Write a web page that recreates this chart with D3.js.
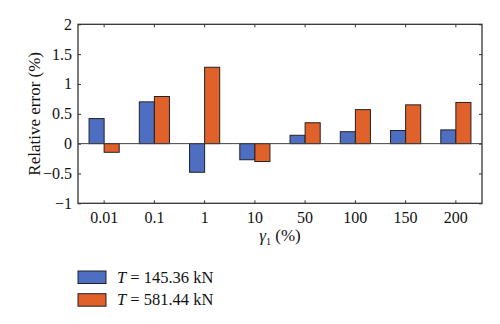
<!DOCTYPE html>
<html><head><meta charset="utf-8">
<script src="https://cdn.jsdelivr.net/npm/d3@7"></script>
<style>body{margin:0;background:#fff}svg{display:block}text{font-family:"Liberation Serif","DejaVu Serif",serif;fill:#111}</style>
</head><body><svg id="c" width="500" height="324"></svg>
<script>
const categories = ["0.01","0.1","1","10","50","100","150","200"];
const seriesNames = ["145.36 kN","581.44 kN"];
const seriesA = [0.42, 0.70, -0.48, -0.27, 0.14, 0.20, 0.22, 0.23];
const seriesB = [-0.145, 0.79, 1.28, -0.30, 0.35, 0.57, 0.65, 0.69];
const yTicks = [-1, -0.5, 0, 0.5, 1, 1.5, 2];
const colors = ["#4e6ec2", "#e0612a"];

const svg = d3.select("#c");
const L = 78, R = 482, T = 24.3, B = 203.3;
const x = d3.scaleBand().domain(categories).range([L, R]).paddingInner(0.4).paddingOuter(0.22);
const xs = d3.scaleBand().domain([0,1]).range([0, x.bandwidth()]);
const y = d3.scaleLinear().domain([-1, 2]).range([B, T]);

const series = [seriesA, seriesB];
series.forEach((vals, si) => {
  svg.append("g").selectAll("rect").data(vals).join("rect")
    .attr("x", (d,i) => x(categories[i]) + xs(si))
    .attr("width", xs.bandwidth())
    .attr("y", d => y(Math.max(0, d)))
    .attr("height", d => Math.abs(y(d) - y(0)))
    .attr("fill", colors[si]).attr("stroke", "#222").attr("stroke-width", 1);
});

// zero line
svg.append("line").attr("x1", L).attr("x2", R).attr("y1", y(0)).attr("y2", y(0))
  .attr("stroke", "#444").attr("stroke-width", 1);

const fmt = d => d < 0 ? "\u2212" + Math.abs(d) : String(d);
// axes
const gL = svg.append("g").attr("transform", `translate(${L},0)`)
  .call(d3.axisRight(y).tickValues(yTicks).tickSize(3).tickFormat(""));
const gR = svg.append("g").attr("transform", `translate(${R},0)`)
  .call(d3.axisLeft(y).tickValues(yTicks).tickSize(3).tickFormat(""));
const gB = svg.append("g").attr("transform", `translate(0,${B})`)
  .call(d3.axisTop(x).tickSize(3).tickFormat(""));
const gT = svg.append("g").attr("transform", `translate(0,${T})`)
  .call(d3.axisBottom(x).tickSize(3).tickFormat(""));
[gL,gR,gB,gT].forEach(g => { g.select(".domain").remove(); g.selectAll("line").attr("stroke","#333"); });

svg.append("rect").attr("x", L).attr("y", T).attr("width", R-L).attr("height", B-T)
  .attr("fill", "none").attr("stroke", "#333").attr("stroke-width", 1.3);

// tick labels
svg.append("g").selectAll("text").data(yTicks).join("text")
  .attr("x", L - 6).attr("y", d => y(d)).attr("dy", "0.34em")
  .attr("text-anchor", "end").attr("font-size", 16).text(fmt);
svg.append("g").selectAll("text").data(categories).join("text")
  .attr("x", d => x(d) + x.bandwidth()/2).attr("y", 223)
  .attr("text-anchor", "middle").attr("font-size", 16).text(d => d);

// axis titles
svg.append("text").attr("transform", `translate(40,${(T+B)/2}) rotate(-90)`)
  .attr("text-anchor", "middle").attr("font-size", 17).text("Relative error (%)");
const xt = svg.append("text").attr("x", (L+R)/2).attr("y", 241).attr("text-anchor", "middle").attr("font-size", 17);
xt.append("tspan").attr("font-style", "italic").text("\u03b3");
xt.append("tspan").attr("font-size", 10).attr("dy", 4).text("1");
xt.append("tspan").attr("dy", -4).text(" (%)");

// legend
seriesNames.forEach((n, i) => {
  const yy = 271 + i * 22.7;
  svg.append("rect").attr("x", 78).attr("y", yy).attr("width", 28).attr("height", 12.5)
    .attr("fill", colors[i]).attr("stroke", "#222").attr("stroke-width", 1);
  const t = svg.append("text").attr("x", 117).attr("y", yy + 11.5).attr("font-size", 16.5);
  t.append("tspan").attr("font-style", "italic").text("T");
  t.append("tspan").text(" = " + n);
});
</script></body></html>
